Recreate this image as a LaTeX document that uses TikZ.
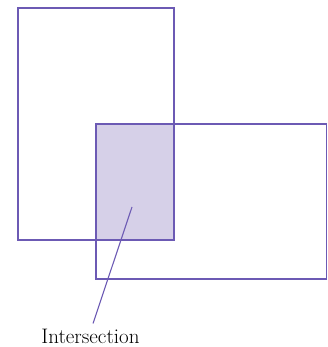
\documentclass[tikz,border=0pt]{standalone}
\usepackage{tikz}
\definecolor{edgepurple}{RGB}{108,90,180}
\definecolor{fillpurple}{RGB}{214,208,232}
\begin{document}
\begin{tikzpicture}[x=1pt,y=1pt,
  boxline/.style={draw=edgepurple,line width=1.2pt},
  pointer/.style={draw=edgepurple,line width=1.1pt},
  labeltext/.style={font=\fontsize{21}{25}\selectfont,inner sep=0pt,anchor=base}]
\useasboundingbox (0,0) rectangle (328,347);
% corners
\coordinate (a1) at (18,339);
\coordinate (a2) at (174,107);
\coordinate (b1) at (96,223);
\coordinate (b2) at (326.5,68);
% intersection fill
\fill[fillpurple] (b1) rectangle (a2);
% rectangles
\draw[boxline] (a1) rectangle (a2);
\draw[boxline] (b1) rectangle (b2);
% label
\node[labeltext] (lab) at (90.5,3.5) {Intersection};
\coordinate (p) at (132,140);
\coordinate (tip) at (93,23.5);
\draw[pointer] (p) -- (tip);
\end{tikzpicture}
\end{document}
